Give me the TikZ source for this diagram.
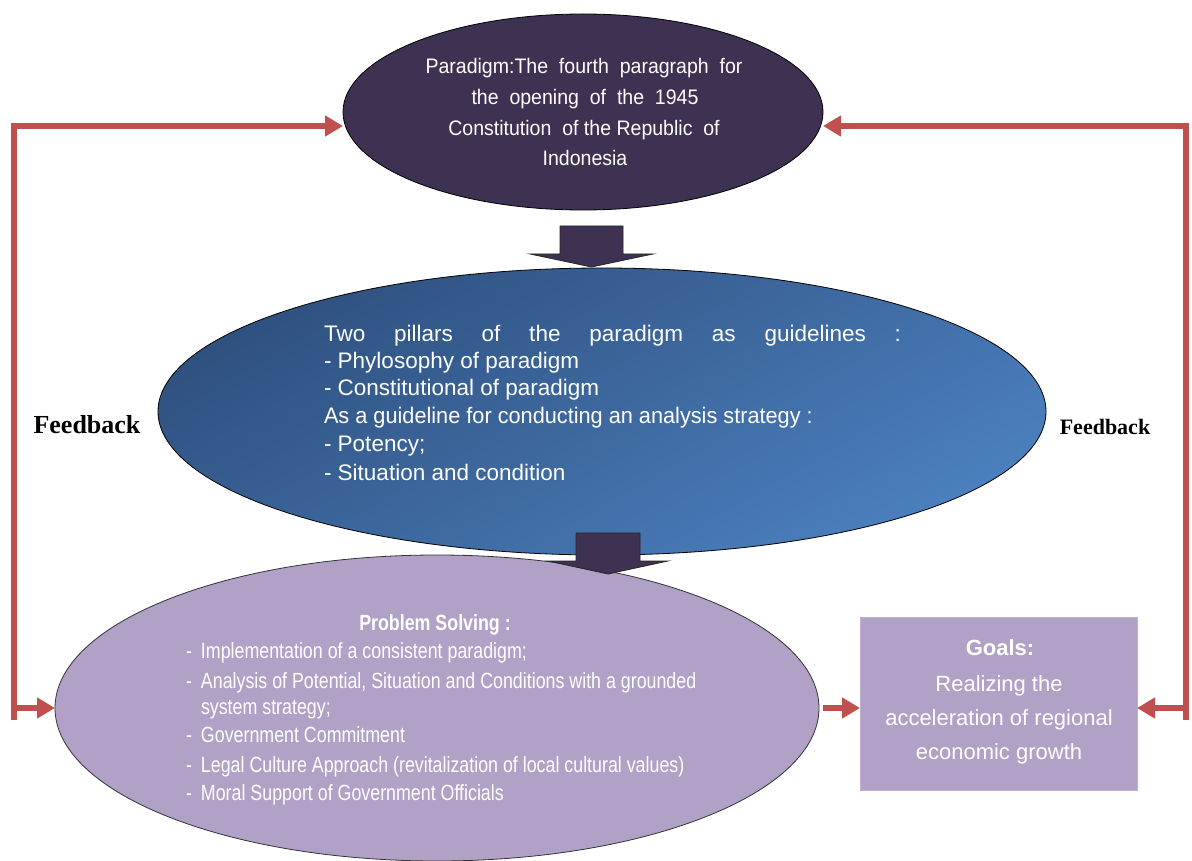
\documentclass[tikz,border=0pt]{standalone}
\usepackage{fontspec}
\setmainfont{Liberation Sans}
\newfontfamily\condA[FakeStretch=0.93]{Liberation Sans}
\newfontfamily\condB[FakeStretch=0.81]{Liberation Sans}
\newfontfamily\serifB{Liberation Serif}
\usetikzlibrary{shapes.geometric,arrows.meta}
\definecolor{darkpurple}{HTML}{3F3151}
\definecolor{lavender}{HTML}{B2A1C7}
\definecolor{fbred}{HTML}{C0504D}
\definecolor{blueA}{HTML}{2F5180}
\definecolor{blueB}{HTML}{4B7FBD}
\begin{document}
\begin{tikzpicture}[x=1pt,y=-1pt,
  every node/.style={inner sep=0pt, outer sep=0pt},
  ellbase/.style={ellipse, draw=black, line width=0.8pt},
  feedline/.style={draw=fbred, line width=5.5pt, line join=miter},
  feedarrow/.style={feedline, -{Triangle[length=18pt,width=20pt]}},
  blockarrow/.style={fill=darkpurple, draw=black!85, line width=0.8pt},
  toptext/.style={text=white, font=\fontsize{21}{30}\condA, anchor=base},
  midtext/.style={text=white, font=\fontsize{22.5}{28}\selectfont, anchor=base west},
  bottext/.style={text=white, font=\fontsize{22}{28}\condB, anchor=base west},
  goaltext/.style={text=white, font=\fontsize{22}{33}\selectfont, anchor=base},
  fblabel/.style={font=\serifB\bfseries, text=black}
]
\path[use as bounding box] (0,0) rectangle (1192,861);

% shapes
\node[ellbase, fill=darkpurple, minimum width=480pt, minimum height=196pt] (top) at (583,112) {};
\node[ellbase, top color=blueA, bottom color=blueB, shading angle=30,
      minimum width=888pt, minimum height=287pt] (mid) at (602,411.5) {};
\node[ellbase, draw=black!80, fill=lavender, minimum width=764pt, minimum height=306pt] (bot) at (437,708) {};
\node[rectangle, fill=lavender, draw=lavender!85!white, minimum width=277pt, minimum height=173pt] (goals) at (998.5,703.5) {};

% block arrows
\draw[blockarrow] (560,226) -- (623,226) -- (623,254) -- (653,254) -- (591.5,267)
   -- (530,254) -- (560,254) -- cycle;
\draw[blockarrow] (576,533) -- (640,533) -- (640,561) -- (668,561) -- (608,574)
   -- (548,561) -- (576,561) -- cycle;

% top text
\node[toptext] (t1) at (584,74) {Paradigm:The \ fourth \ paragraph \ for};
\node[toptext] (t2) at (585,105) {the \ opening \ of \ the \ 1945};
\node[toptext] (t3) at (584,136) {Constitution \ of the Republic \ of};
\node[toptext] (t4) at (585,166) {Indonesia};

% middle text
\node[midtext] (m1) at (324,341) {\makebox[577pt][s]{Two pillars of the paradigm as guidelines :}};
\node[midtext] (m2) at (324,368) {- Phylosophy of paradigm};
\node[midtext] (m3) at (324,395) {- Constitutional of paradigm};
\node[midtext] (m4) at (324,423) {\scalebox{0.965}[1]{As a guideline for conducting an analysis strategy :}};
\node[midtext] (m5) at (324,451) {- Potency;};
\node[midtext] (m6) at (324,480) {- Situation and condition};

% bottom text
\node[bottext, anchor=base, font=\fontsize{22}{28}\condB\bfseries] (ps) at (435,630) {Problem Solving :};
\node[bottext] (b1) at (186,658) {\makebox[15pt][l]{-}Implementation of a consistent paradigm;};
\node[bottext] (b2) at (186,688) {\makebox[15pt][l]{-}Analysis of Potential, Situation and Conditions with a grounded};
\node[bottext] (b2b) at (201,714) {system strategy;};
\node[bottext] (b3) at (186,742) {\makebox[15pt][l]{-}Government Commitment};
\node[bottext] (b4) at (186,772) {\makebox[15pt][l]{-}Legal Culture Approach (revitalization of local cultural values)};
\node[bottext] (b5) at (186,800) {\makebox[15pt][l]{-}Moral Support of Government Officials};

% goals text
\node[goaltext, font=\fontsize{22}{33}\selectfont\bfseries] (g0) at (1000,655) {Goals:};
\node[goaltext] (g1) at (999,691) {Realizing the};
\node[goaltext] (g2) at (999,725) {acceleration of regional};
\node[goaltext] (g3) at (999,759) {economic growth};

% feedback labels
\node[fblabel, font=\fontsize{26}{30}\serifB\bfseries] (fbl) at (87,425) {Feedback};
\node[fblabel, font=\fontsize{22}{26}\serifB\bfseries] (fbr) at (1105,427) {Feedback};

% feedback connectors
\coordinate (lbot) at (14,720);
\coordinate (ltop) at (14,126);
\coordinate (lmid) at (14,708);
\coordinate (rbot) at (1186,720);
\coordinate (rtop) at (1186,126);
\coordinate (rmid) at (1186,708);
\draw[feedarrow] (lbot) -- (ltop) -- (ltop -| top.west);
\draw[feedarrow] (lmid) -- (lmid -| bot.west);
\draw[feedarrow] (rbot) -- (rtop) -- (rtop -| top.east);
\draw[feedarrow] (rmid) -- (rmid -| goals.east);
\draw[feedarrow, shorten <=4pt] (bot.east) -- (bot.east -| goals.west);
\end{tikzpicture}
\end{document}
